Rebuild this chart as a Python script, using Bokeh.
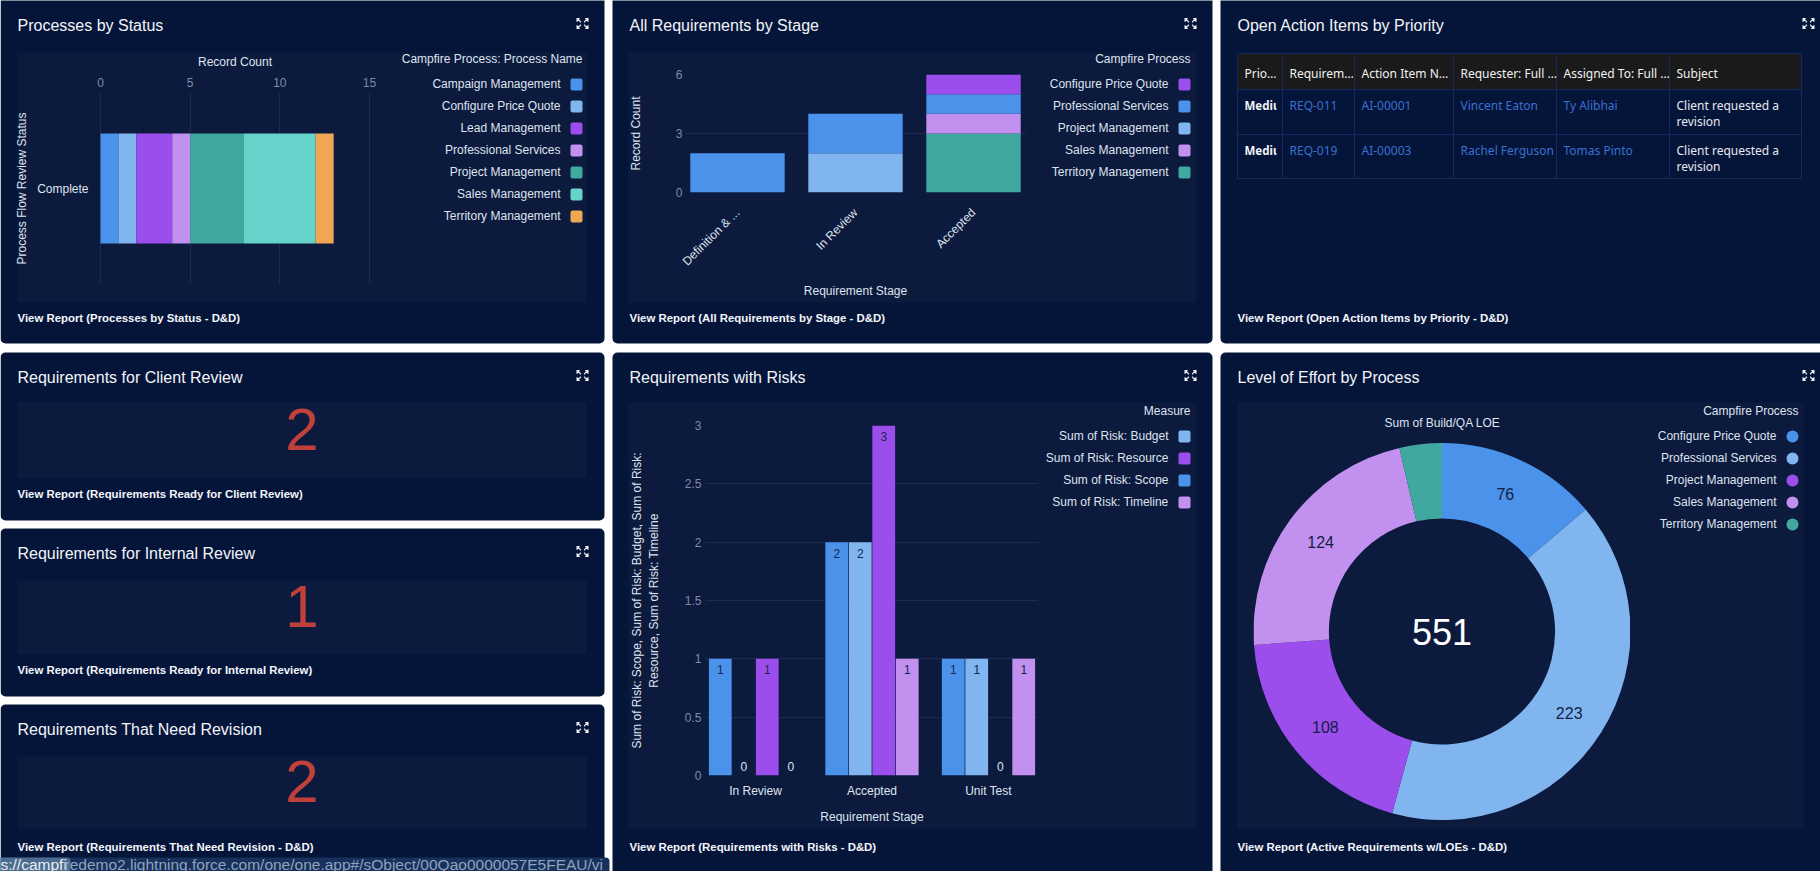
from math import pi, sin, cos
from bokeh.core.properties import value
from bokeh.embed import file_html
from bokeh.layouts import column
from bokeh.models import BoxAnnotation, ColumnDataSource, FactorRange, FixedTicker, Label, PolyAnnotation, Range1d
from bokeh.models import CategoricalAxis, Grid, LinearAxis
from bokeh.plotting import figure
from bokeh.resources import INLINE
from bokeh.transform import dodge

# ---- data ----
status_processes = ["Campaign Management", "Configure Price Quote", "Lead Management",
                    "Professional Services", "Project Management", "Sales Management",
                    "Territory Management"]
status_counts = [1, 1, 2, 1, 3, 4, 1]
status_categories = ["Complete"]
status_ticks = [0, 5, 10, 15]

stage_categories = ["Definition & ...", "In Review", "Accepted"]
stage_processes = ["Configure Price Quote", "Professional Services", "Project Management",
                   "Sales Management", "Territory Management"]
stage_cpq = [0, 0, 1]
stage_prof = [2, 2, 1]
stage_proj = [0, 2, 0]
stage_sales = [0, 0, 1]
stage_terr = [0, 0, 3]
stage_ticks = [0, 3, 6]

table_header = ["Prio…", "Requirem…", "Action Item N…", "Requester: Full …", "Assigned To: Full …", "Subject"]
table_rows = [["Mediu", "REQ-011", "AI-00001", "Vincent Eaton", "Ty Alibhai", "Client requested a\nrevision"],
              ["Mediu", "REQ-019", "AI-00003", "Rachel Ferguson", "Tomas Pinto", "Client requested a\nrevision"]]

kpi_client = [2]
kpi_internal = [1]
kpi_revision = [2]

risk_categories = ["In Review", "Accepted", "Unit Test"]
risk_measures = ["Sum of Risk: Budget", "Sum of Risk: Resource", "Sum of Risk: Scope", "Sum of Risk: Timeline"]
risk_scope = [1, 2, 1]
risk_budget = [0, 2, 1]
risk_resource = [1, 3, 0]
risk_timeline = [0, 1, 1]
risk_ticks = [0, 0.5, 1, 1.5, 2, 2.5, 3]

loe_processes = ["Configure Price Quote", "Professional Services", "Project Management",
                 "Sales Management", "Territory Management"]
loe_values = [76, 223, 108, 124, 20]
loe_total = 551

# ---- style ----
CARD = "#05153a"
PANEL = "#0c1a3e"
GRID = "#1f2b4e"
TXT = "#dfe4ee"
MUTED = "#7f8ba8"
BLUE, LIGHT, PURPLE, LILAC, TEAL, AQUA, ORANGE = ("#4b92ea", "#80b5ef", "#9c4eec", "#c291f0",
                                                  "#41a8a0", "#66d3cb", "#f0a754")
SANS = "Liberation Sans"
TF = "Noto Sans"
W, H = 1820, 871

# ---- page-sized backdrop: cards, panels, titles, legends, table ----
bg = figure(width=W, height=H, output_backend="svg", toolbar_location=None,
            x_range=Range1d(0, W), y_range=Range1d(H, 0), x_axis_type=None, y_axis_type=None,
            min_border=0, border_fill_color="#ffffff", background_fill_color="#ffffff", frame_align=False)
bg.grid.visible = False
bg.outline_line_color = None


def text(x, y, s, size=12, color=TXT, align="left", style="normal", font=SANS, level="annotation"):
    bg.add_layout(Label(x=x, y=y, x_units="canvas", y_units="canvas", text=s, text_font=font,
                        text_font_size=f"{size}px", text_color=color, text_align=align,
                        text_baseline="middle", text_font_style=style, level=level))


def box(x0, y0, x1, y1, color, level="image", radius=0):
    bg.add_layout(BoxAnnotation(left=x0, right=x1, top=y0, bottom=y1, left_units="canvas", right_units="canvas",
                                top_units="canvas", bottom_units="canvas", fill_color=color, fill_alpha=1,
                                line_color=None, level=level, border_radius=radius, editable=False))


def icon(cx, cy):
    for sx, sy in [(-1, -1), (1, -1), (-1, 1), (1, 1)]:
        px = [cx + sx * v for v in (6, 2.2, 3.6, 1.2, 2.2, 3.6, 6)]
        py = [cy + sy * v for v in (5.6, 5.6, 4.2, 1.8, 0.8, 2.8, 1.6)]
        bg.add_layout(PolyAnnotation(xs=px, ys=py, xs_units="canvas", ys_units="canvas", fill_color="#f4f6fa",
                                     fill_alpha=1, line_color=None, level="annotation", editable=False))


def card(rect, panel, title, report, title_y, report_y, text_x):
    box(*rect, CARD, radius=5)
    if panel is not None:
        box(*panel, PANEL, level="underlay")
    text(text_x, title_y - 1, title, size=16, color="#f2f4f8")
    text(text_x, report_y, report, size=11.4, color="#f4f6fa", style="bold")
    icon(rect[2] - 22, title_y - 3)


def legend(title, names, colors, right, title_y, first_y, circle=False):
    text(right, title_y - 1, title, align="right")
    for i, (n, c) in enumerate(zip(names, colors)):
        y = first_y + 22 * i
        text(right - 22, y - 1, n, align="right")
        box(right - 12, y - 6, right, y + 6, c, level="annotation", radius=6 if circle else 2)


def overlay(rect, frame, x_range, y_range, axes=True):
    x0, y0, x1, y1 = rect
    l, t, r, b = frame
    kw = {} if axes else {"x_axis_type": None, "y_axis_type": None}
    f = figure(width=x1 - x0, height=y1 - y0, output_backend="svg", toolbar_location=None, x_range=x_range,
               y_range=y_range, min_border_left=l - x0, min_border_right=x1 - r, min_border_top=t - y0,
               min_border_bottom=y1 - b, border_fill_color=None, background_fill_color=None, frame_align=False,
               styles={"position": "absolute", "left": f"{x0}px", "top": f"{y0}px"}, **kw)
    f.outline_line_color = None
    f.grid.visible = False
    return f


def style_axis(ax, label_color=MUTED):
    ax.axis_line_color = None
    ax.major_tick_line_color = None
    ax.minor_tick_line_color = None
    ax.major_tick_out = 0
    ax.major_tick_in = 0
    ax.major_label_text_font = SANS
    ax.major_label_text_font_size = "12px"
    ax.major_label_text_color = label_color
    ax.axis_label_text_font = SANS
    ax.axis_label_text_font_size = "12px"
    ax.axis_label_text_font_style = "normal"
    ax.axis_label_text_color = TXT


charts = []

# ---- Processes by Status ----
card((0, -10, 604, 343), (17, 52, 586, 302), "Processes by Status", "View Report (Processes by Status - D&D)", 26, 317, 17)
p = overlay((0, 0, 604, 343), (98, 92, 371, 284), Range1d(-0.11, 15.11), FactorRange(*status_categories))
p.xaxis.visible = False
p.yaxis.visible = False
xa = LinearAxis(axis_label="Record Count", ticker=FixedTicker(ticks=status_ticks))
style_axis(xa)
xa.major_label_standoff = 6
xa.axis_label_standoff = 6
p.add_layout(xa, "above")
ya = CategoricalAxis(axis_label="Process Flow Review Status")
style_axis(ya, TXT)
ya.major_label_standoff = 10
ya.axis_label_standoff = 5
p.add_layout(ya, "left")
p.add_layout(Grid(dimension=0, ticker=xa.ticker, grid_line_color=GRID))
status_colors = [BLUE, LIGHT, PURPLE, LILAC, TEAL, AQUA, ORANGE]
src1 = ColumnDataSource({"y": status_categories, **{n: [v] for n, v in zip(status_processes, status_counts)}})
p.hbar_stack(status_processes, y="y", height=0.573, color=status_colors, line_color=None, source=src1)
legend("Campfire Process: Process Name", status_processes, status_colors, 582, 59, 84)
charts.append(p)

# ---- All Requirements by Stage ----
card((612, -10, 1212, 343), (628, 52, 1196, 302), "All Requirements by Stage",
     "View Report (All Requirements by Stage - D&D)", 26, 317, 629)
p = overlay((612, 0, 1212, 343), (684, 74, 1026, 192),
            FactorRange(*stage_categories, range_padding=-0.034), Range1d(0, 6))
p.yaxis.ticker = FixedTicker(ticks=stage_ticks)
for ax in p.axis:
    style_axis(ax)
p.xaxis.major_label_orientation = pi / 4
p.xaxis.major_label_text_color = TXT
p.xaxis.major_label_standoff = 18
p.xaxis.axis_label = "Requirement Stage"
p.xaxis.axis_label_standoff = 8
p.yaxis.axis_label = "Record Count"
p.yaxis.major_label_standoff = 2
p.yaxis.axis_label_standoff = 30
p.ygrid.visible = True
p.ygrid.grid_line_color = GRID
stage_colors = [PURPLE, BLUE, LIGHT, LILAC, TEAL]
src2 = ColumnDataSource({"x": stage_categories, "Configure Price Quote": stage_cpq, "Professional Services": stage_prof,
                         "Project Management": stage_proj, "Sales Management": stage_sales,
                         "Territory Management": stage_terr})
p.vbar_stack(["Project Management", "Territory Management", "Sales Management", "Professional Services",
              "Configure Price Quote"], x="x", width=0.8, color=[LIGHT, TEAL, LILAC, BLUE, PURPLE],
             line_color=None, source=src2)
legend("Campfire Process", stage_processes, stage_colors, 1190, 59, 84)
charts.append(p)

# ---- Open Action Items by Priority ----
card((1220, -10, 1830, 343), None, "Open Action Items by Priority",
     "View Report (Open Action Items by Priority - D&D)", 26, 317, 1237)
col_edges = [1237, 1282, 1354, 1453, 1556, 1669, 1801]
row_edges = [53, 89, 134, 178]
row_text_y = [105, 150]
LINE = "#15295f"
box(col_edges[0], row_edges[0], col_edges[-1], row_edges[1], "#1a1a1a", level="underlay")
for xe in col_edges:
    box(xe - 0.5, row_edges[0], xe + 0.5, row_edges[-1], LINE, level="glyph")
for ye in row_edges:
    box(col_edges[0], ye - 0.5, col_edges[-1], ye + 0.5, LINE, level="glyph")
for xe, h in zip(col_edges, table_header):
    text(xe + 7, 72.5, h, color="#f2f2f2", font=TF)
for ty, rw in zip(row_text_y, table_rows):
    for j, (xe, val) in enumerate(zip(col_edges, rw)):
        if j == 0:
            text(xe + 7, ty, val, size=11.5, color="#f2f4f8", style="bold", font=TF)
        elif j == 5:
            first, second = val.split("\n")
            text(xe + 7, ty, first, color="#e6e9f0", font=TF)
            text(xe + 7, ty + 16, second, color="#e6e9f0", font=TF)
        else:
            text(xe + 7, ty, val, color="#3a70cf", font=TF)
    box(1276, ty - 9, 1281, ty + 9, CARD, level="overlay")


# ---- KPI cards ----
def kpi(rect, panel, title, report, val, title_y, report_y, frame_y):
    card(rect, panel, title, report, title_y, report_y, 17)
    fr = (panel[0], frame_y[0], panel[2], frame_y[1])
    f = overlay(fr, fr, Range1d(0, 1), Range1d(0, 1), axes=False)
    f.text(x=[0.5], y=[0.5], text=[str(v) for v in val], text_font=value(SANS), text_font_size="60px",
           text_color="#c0403a", text_align="center", text_baseline="middle")
    charts.append(f)


kpi((0, 352, 604, 520), (17, 402, 586, 477), "Requirements for Client Review",
    "View Report (Requirements Ready for Client Review)", kpi_client, 378, 493, (387, 471))
kpi((0, 528, 604, 696), (17, 580, 586, 653), "Requirements for Internal Review",
    "View Report (Requirements Ready for Internal Review)", kpi_internal, 554, 669, (564, 648))
kpi((0, 704, 604, 880), (17, 756, 586, 828), "Requirements That Need Revision",
    "View Report (Requirements That Need Revision - D&D)", kpi_revision, 730, 846, (739, 823))
box(0, 857, 609, 880, "#17305c", level="annotation", radius=4)
box(-6, 857, 70, 880, "#4d6d90", level="annotation", radius=4)
text(0, 863.5, "s://campfi", size=15.5, color="#e8edf4", level="overlay")
text(64, 863.5, "redemo2.lightning.force.com/one/one.app#/sObject/00Qao0000057E5FEAU/vi", size=15.5,
     color="#8fa3bf", level="overlay")

# ---- Requirements with Risks ----
card((612, 352, 1212, 880), (628, 402, 1196, 828), "Requirements with Risks",
     "View Report (Requirements with Risks - D&D)", 378, 846, 629)
p = overlay((612, 352, 1212, 871), (705, 425, 1038, 775),
            FactorRange(*risk_categories, range_padding=-0.047), Range1d(0, 3))
p.yaxis.ticker = FixedTicker(ticks=risk_ticks)
p.yaxis.major_label_overrides = {t: f"{t:g}" for t in risk_ticks}
for ax in p.axis:
    style_axis(ax)
p.xaxis.major_label_text_color = TXT
p.xaxis.major_label_standoff = 8
p.xaxis.axis_label = "Requirement Stage"
p.xaxis.axis_label_standoff = 9
p.yaxis.axis_label = "Sum of Risk: Scope, Sum of Risk: Budget, Sum of Risk:\nResource, Sum of Risk: Timeline"
p.yaxis.major_label_standoff = 4
p.yaxis.axis_label_standoff = 21
p.ygrid.visible = True
p.ygrid.grid_line_color = GRID
step = 0.2017
for off, vals, col in zip((-1.5, -0.5, 0.5, 1.5), (risk_scope, risk_budget, risk_resource, risk_timeline),
                          (BLUE, LIGHT, PURPLE, LILAC)):
    s = ColumnDataSource({"stage": risk_categories, "v": vals, "t": [str(v) for v in vals],
                          "oy": [11 if v > 0 else -9 for v in vals],
                          "tc": ["#1a2450" if v > 0 else TXT for v in vals]})
    p.vbar(x=dodge("stage", off * step, range=p.x_range), top="v", width=step * 0.97, color=col, line_color=None, source=s)
    p.text(x=dodge("stage", off * step, range=p.x_range), y="v", text="t", y_offset="oy", text_color="tc",
           text_font=value(SANS), text_font_size="12px", text_align="center", text_baseline="middle", source=s)
legend("Measure", risk_measures, [LIGHT, PURPLE, BLUE, LILAC], 1190, 411.5, 436)
charts.append(p)

# ---- Level of Effort by Process ----
card((1220, 352, 1830, 880), (1237, 402, 1803, 828), "Level of Effort by Process",
     "View Report (Active Requirements w/LOEs - D&D)", 378, 846, 1237)
text(1442, 422.5, "Sum of Build/QA LOE", align="center")
p = overlay((1253, 442, 1630, 820), (1253, 442, 1630, 820), Range1d(-1, 1), Range1d(-1, 1), axes=False)
loe_colors = [BLUE, LIGHT, PURPLE, LILAC, TEAL]
starts, ends, mids = [], [], []
acc = 0
for v in loe_values:
    a0 = pi / 2 - 2 * pi * acc / loe_total
    acc += v
    a1 = pi / 2 - 2 * pi * acc / loe_total
    starts.append(a0); ends.append(a1); mids.append((a0 + a1) / 2)
p.annular_wedge(x=0, y=0, inner_radius=0.6, outer_radius=1, start_angle=starts, end_angle=ends, direction="clock",
                color=loe_colors, line_color=None)
RM = 0.8
show = [i for i in range(len(loe_values)) if loe_values[i] >= 50]
p.text(x=[RM * cos(mids[i]) for i in show], y=[RM * sin(mids[i]) for i in show], text=[str(loe_values[i]) for i in show],
       text_font=value(SANS), text_font_size="16px", text_color="#131d45", text_align="center", text_baseline="middle")
p.text(x=[0], y=[0], text=[str(loe_total)], text_font=value(SANS), text_font_size="36px", text_color="#ffffff",
       text_align="center", text_baseline="middle")
legend("Campfire Process", loe_processes, loe_colors, 1798, 411.5, 436, circle=True)
charts.append(p)

page = column(bg, *charts, spacing=0)
open("out.html", "w").write(file_html(page, INLINE))
